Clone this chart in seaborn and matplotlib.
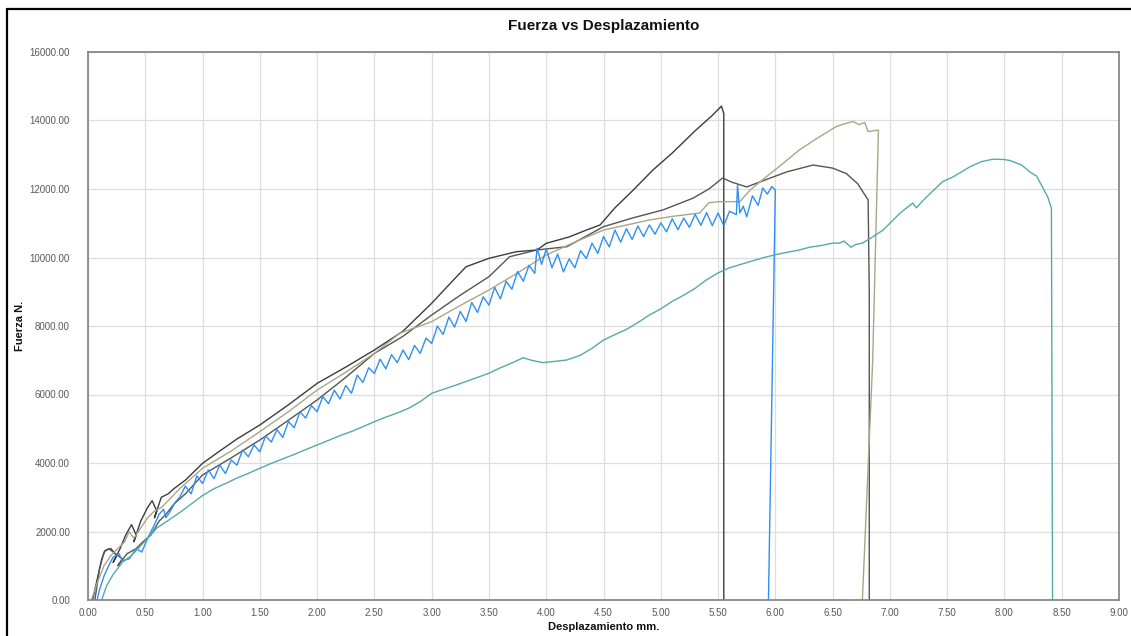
import numpy as np
import pandas as pd
import matplotlib
matplotlib.use("Agg")
import matplotlib.pyplot as plt
from matplotlib.lines import Line2D
import seaborn as sns

# ---------------- data ----------------
x_tick_labels = ["0.00", "0.50", "1.00", "1.50", "2.00", "2.50", "3.00", "3.50", "4.00",
                 "4.50", "5.00", "5.50", "6.00", "6.50", "7.00", "7.50", "8.00", "8.50", "9.00"]
y_tick_labels = ["0.00", "2000.00", "4000.00", "6000.00", "8000.00", "10000.00",
                 "12000.00", "14000.00", "16000.00"]

probeta1_x = [0.04, 0.08, 0.12, 0.15, 0.20, 0.25, 0.22, 0.28, 0.33, 0.38, 0.42, 0.40, 0.46, 0.52,
              0.56, 0.60, 0.58, 0.64, 0.70, 0.75, 0.85, 1.00, 1.15, 1.30, 1.50, 1.75, 2.00, 2.25,
              2.50, 2.75, 3.00, 3.15, 3.30, 3.50, 3.74, 3.92, 4.00, 4.20, 4.35, 4.47, 4.60, 4.76,
              4.93, 5.10, 5.30, 5.45, 5.53, 5.55, 5.55]
probeta1_y = [0, 600, 1200, 1450, 1500, 1300, 1100, 1500, 1900, 2200, 1900, 1700, 2300, 2700,
              2900, 2600, 2400, 3000, 3100, 3250, 3500, 3990, 4350, 4700, 5110, 5700, 6325, 6800,
              7300, 7850, 8663, 9200, 9730, 9976, 10170, 10220, 10414, 10600, 10800, 10950, 11450,
              11970, 12550, 13050, 13700, 14150, 14420, 14200, 0]

probeta2_x = [0.06, 0.10, 0.14, 0.18, 0.24, 0.30, 0.26, 0.34, 0.42, 0.48, 0.55, 0.62, 0.68, 0.75,
              0.85, 1.00, 1.25, 1.50, 1.75, 2.00, 2.25, 2.50, 2.75, 3.00, 3.25, 3.50, 3.68, 3.92,
              4.18, 4.50, 4.75, 5.02, 5.28, 5.42, 5.54, 5.62, 5.75, 5.90, 6.10, 6.33, 6.50, 6.62,
              6.72, 6.81, 6.82, 6.82]
probeta2_y = [0, 900, 1400, 1500, 1350, 1200, 1000, 1350, 1500, 1700, 1900, 2300, 2500, 2800,
              3100, 3650, 4150, 4670, 5250, 5840, 6500, 7200, 7700, 8320, 8900, 9440, 10023, 10220,
              10315, 10900, 11150, 11390, 11730, 12000, 12320, 12200, 12060, 12250, 12500, 12700,
              12610, 12450, 12150, 11680, 9000, 0]

probeta3_x = [0.03, 0.08, 0.14, 0.20, 0.26, 0.32, 0.36, 0.40, 0.46, 0.52, 0.58, 0.64, 0.70, 0.80,
              1.00, 1.25, 1.50, 1.75, 2.00, 2.25, 2.50, 2.72, 3.00, 3.25, 3.50, 3.75, 4.00, 4.25,
              4.50, 4.90, 5.10, 5.34, 5.42, 5.51, 5.69, 5.78, 5.90, 6.05, 6.21, 6.35, 6.53, 6.60,
              6.68, 6.73, 6.78, 6.81, 6.90, 6.85, 6.76]
probeta3_y = [0, 500, 1000, 1300, 1500, 1700, 2000, 1800, 2100, 2400, 2600, 2700, 2900, 3250,
              3845, 4350, 4915, 5500, 6130, 6650, 7200, 7786, 8127, 8600, 9050, 9550, 10073, 10450,
              10800, 11095, 11200, 11300, 11600, 11630, 11630, 11970, 12300, 12700, 13140, 13450,
              13820, 13900, 13970, 13880, 13940, 13675, 13720, 7000, 0]

probeta4_x = [0.08, 0.10, 0.14, 0.18, 0.22, 0.27, 0.30, 0.36, 0.42, 0.47, 0.52, 0.58, 0.62, 0.66,
              0.68, 0.72, 0.76, 0.80, 0.85, 0.90, 0.95, 1.00, 1.05, 1.10, 1.15, 1.20, 1.25, 1.30,
              1.35, 1.40, 1.45, 1.50, 1.55, 1.60, 1.65, 1.70, 1.75, 1.80, 1.85, 1.90, 1.95, 2.00,
              2.05, 2.10, 2.15, 2.20, 2.25, 2.30, 2.35, 2.40, 2.45, 2.50, 2.55, 2.60, 2.65, 2.70,
              2.75, 2.80, 2.85, 2.90, 2.95, 3.00, 3.05, 3.10, 3.15, 3.20, 3.25, 3.30, 3.35, 3.40,
              3.45, 3.50, 3.55, 3.60, 3.65, 3.70, 3.75, 3.80, 3.85, 3.90, 3.92, 3.96, 4.00, 4.05,
              4.10, 4.15, 4.20, 4.25, 4.30, 4.35, 4.40, 4.45, 4.50, 4.55, 4.60, 4.65, 4.70, 4.75,
              4.80, 4.85, 4.90, 4.95, 5.00, 5.05, 5.10, 5.15, 5.20, 5.25, 5.30, 5.35, 5.40, 5.45,
              5.50, 5.55, 5.60, 5.66, 5.67, 5.69, 5.72, 5.75, 5.80, 5.85, 5.89, 5.93, 5.97, 6.00,
              5.94]
probeta4_y = [0, 300, 700, 1000, 1250, 1350, 1150, 1200, 1500, 1400, 1800, 2200, 2500, 2650,
              2400, 2600, 2850, 3000, 3325, 3100, 3625, 3400, 3800, 3545, 3943, 3690, 4088, 3936,
              4383, 4181, 4528, 4326, 4793, 4610, 4977, 4744, 5211, 5027, 5494, 5311, 5678, 5495,
              5938, 5732, 6125, 5868, 6261, 6036, 6568, 6350, 6782, 6614, 7031, 6748, 7165, 6932,
              7299, 7016, 7433, 7200, 7645, 7490, 7997, 7754, 8261, 7968, 8425, 8132, 8689, 8396,
              8853, 8610, 9126, 8792, 9308, 9074, 9590, 9306, 9772, 9535, 10270, 9800, 10250, 9700,
              10100, 9580, 9960, 9700, 10200, 9970, 10420, 10120, 10610, 10310, 10800, 10450, 10840,
              10530, 10920, 10610, 10950, 10680, 11010, 10750, 11130, 10810, 11150, 10880, 11260,
              10940, 11310, 10930, 11300, 10930, 11350, 11250, 12117, 11300, 11500, 11187, 11800,
              11520, 12030, 11850, 12070, 11970, 0]

probeta5_x = [0.12, 0.16, 0.22, 0.30, 0.38, 0.45, 0.52, 0.60, 0.69, 0.80, 0.90, 1.00, 1.10, 1.20,
              1.30, 1.40, 1.50, 1.60, 1.70, 1.80, 1.90, 2.00, 2.10, 2.20, 2.30, 2.40, 2.50, 2.60,
              2.70, 2.80, 2.90, 3.00, 3.10, 3.20, 3.30, 3.40, 3.50, 3.60, 3.70, 3.80, 3.87, 3.97,
              4.08, 4.18, 4.30, 4.40, 4.50, 4.60, 4.70, 4.80, 4.90, 5.00, 5.10, 5.20, 5.30, 5.40,
              5.50, 5.60, 5.70, 5.80, 5.90, 6.00, 6.10, 6.21, 6.30, 6.40, 6.50, 6.56, 6.60, 6.66,
              6.70, 6.76, 6.85, 6.94, 7.00, 7.09, 7.20, 7.23, 7.30, 7.46, 7.55, 7.70, 7.80, 7.90,
              8.00, 8.05, 8.15, 8.22, 8.28, 8.33, 8.38, 8.41, 8.42]
probeta5_y = [0, 400, 750, 1100, 1300, 1550, 1800, 2100, 2300, 2550, 2800, 3050, 3250, 3400,
              3560, 3700, 3845, 3990, 4120, 4250, 4390, 4525, 4660, 4800, 4920, 5060, 5206, 5340,
              5460, 5600, 5790, 6035, 6150, 6260, 6380, 6500, 6620, 6780, 6920, 7075, 7000, 6930,
              6970, 7007, 7150, 7350, 7590, 7750, 7900, 8100, 8320, 8500, 8720, 8900, 9100, 9350,
              9550, 9700, 9800, 9900, 10000, 10080, 10150, 10220, 10300, 10350, 10420, 10420, 10480,
              10300, 10380, 10420, 10600, 10800, 11000, 11300, 11590, 11450, 11700, 12215, 12350,
              12650, 12800, 12870, 12860, 12830, 12700, 12505, 12380, 12070, 11750, 11435, 0]

series_names = ["Probeta 1", "Probeta 2", "Probeta 3", "Probeta 4", "Probeta 5"]
series_x = [probeta1_x, probeta2_x, probeta3_x, probeta4_x, probeta5_x]
series_y = [probeta1_y, probeta2_y, probeta3_y, probeta4_y, probeta5_y]
series_colors = ["#3c3c3c", "#555555", "#a8a785", "#2f8ff2", "#55aaa8"]

# ---------------- plot ----------------
sns.set_theme(style="whitegrid")
plt.rcParams["font.family"] = ["Liberation Sans", "DejaVu Sans"]

fig = plt.figure(figsize=(11.31, 6.36), dpi=100)
ax = fig.add_axes([88 / 1131, 36 / 636, (1119 - 88) / 1131, (600 - 52) / 636])
ax.set_facecolor("white")

for name, xs, ys, col in zip(series_names, series_x, series_y, series_colors):
    df = pd.DataFrame({"x": xs, "y": ys})
    sns.lineplot(data=df, x="x", y="y", sort=False, estimator=None, color=col,
                 linewidth=1.0, ax=ax, legend=False)

xt = [float(t) for t in x_tick_labels]
yt = [float(t) for t in y_tick_labels]
ax.set_xlim(0, 9)
ax.set_ylim(0, 16000)
ax.set_xticks(xt)
ax.set_xticklabels(x_tick_labels)
ax.set_yticks(yt)
ax.set_yticklabels(y_tick_labels)
ax.tick_params(axis="both", labelsize=7, colors="#595959", length=0, pad=6)
ax.tick_params(axis="y", pad=13)
ax.grid(True, color="#dedede", linewidth=0.9)
for s in ax.spines.values():
    s.set_visible(True)
    s.set_color("#808080")
    s.set_linewidth(1.2)

ax.set_xlabel("Desplazamiento mm.", fontsize=8, fontweight="bold", color="#111111", labelpad=3)
ax.set_ylabel("Fuerza N.", fontsize=8, fontweight="bold", color="#111111", labelpad=3)
fig.text(0.5 * (88 + 1119) / 1131, 1 - 26 / 636, "Fuerza vs Desplazamiento", ha="center",
         va="center", fontsize=11, fontweight="bold", color="#111111")

# outer frame (left and top edges visible in the reference)
fig.add_artist(Line2D([7 / 1131, 7 / 1131], [0, 1 - 9 / 636], transform=fig.transFigure,
                      color="black", linewidth=1.6))
fig.add_artist(Line2D([7 / 1131, 1], [1 - 9 / 636, 1 - 9 / 636], transform=fig.transFigure,
                      color="black", linewidth=1.6))

fig.savefig("out.png", dpi=100, facecolor="white")
